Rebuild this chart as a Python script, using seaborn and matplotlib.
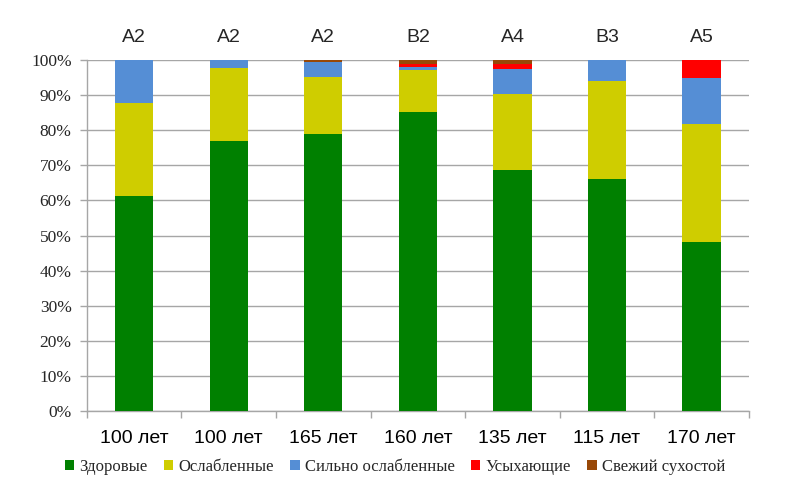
import pandas as pd
import matplotlib.pyplot as plt
import seaborn as sns
from matplotlib.patches import Patch
from matplotlib.ticker import FixedLocator

# Bar data (percent of trees by condition class)
ages = ["100 лет", "100 лет", "165 лет", "160 лет", "135 лет", "115 лет", "170 лет"]
types = ["А2", "А2", "А2", "В2", "А4", "В3", "А5"]
healthy = [61.2, 77.0, 79.0, 85.2, 68.8, 66.1, 48.1]
weakened = [26.6, 20.6, 16.2, 11.9, 21.5, 27.9, 33.7]
strongly_weakened = [12.2, 2.4, 4.1, 0.9, 7.1, 6.0, 13.2]
drying = [0.0, 0.0, 0.0, 1.0, 1.6, 0.0, 5.0]
fresh_dead = [0.0, 0.0, 0.8, 1.0, 1.0, 0.0, 0.0]

series_names = ["Здоровые", "Ослабленные", "Сильно ослабленные", "Усыхающие", "Свежий сухостой"]
colors = ["#008000", "#CFCD00", "#558ED5", "#FF0000", "#984807"]

sns.set_theme(style="white")
plt.rcParams["font.family"] = ["Liberation Serif", "DejaVu Serif"]

df = pd.DataFrame({
    "pos": range(len(ages)),
    "s0": healthy,
    "s1": weakened,
    "s2": strongly_weakened,
    "s3": drying,
    "s4": fresh_dead,
})
# cumulative sums for stacking
cols = ["s0", "s1", "s2", "s3", "s4"]
cum = df[cols].cumsum(axis=1)
cum["pos"] = df["pos"]

fig = plt.figure(figsize=(7.9, 4.98), dpi=100)
ax = fig.add_axes([0.110, 0.1747, 0.838, 0.7048])

# draw from the top layer down so lower layers cover upper ones
for col, c in reversed(list(zip(cols, colors))):
    sns.barplot(data=cum, x="pos", y=col, color=c, saturation=1,
                width=0.405, errorbar=None, ax=ax, zorder=3, linewidth=0)

ax.set_ylim(0, 100)
ax.set_xlim(-0.5, len(ages) - 0.5)
ax.set_yticks(range(0, 101, 10))
ax.set_yticklabels([f"{v}%" for v in range(0, 101, 10)], fontsize=12.5)
ax.set_xticks(range(len(ages)))
ax.set_xticklabels(ages, fontsize=14, family=["Liberation Sans", "DejaVu Sans"])
ax.xaxis.set_minor_locator(FixedLocator([i - 0.5 for i in range(len(ages) + 1)]))
ax.tick_params(axis="x", which="major", length=0, pad=14, colors="black")
ax.tick_params(axis="x", which="minor", length=5, width=1, color="#A6A6A6", bottom=True)
ax.tick_params(axis="y", length=5, width=1, color="#A6A6A6", left=True, pad=6)
ax.set_xlabel("")
ax.set_ylabel("")

ax.yaxis.grid(True, color="#A6A6A6", linewidth=1, zorder=0)
ax.set_axisbelow(True)
for side in ["top", "right"]:
    ax.spines[side].set_visible(False)
for side in ["left", "bottom"]:
    ax.spines[side].set_color("#A6A6A6")
    ax.spines[side].set_linewidth(1)

# forest type labels above bars
for i, t in enumerate(types):
    ax.text(i, 1.0655, t, transform=ax.get_xaxis_transform(), ha="center", va="center",
            fontsize=14, family=["Liberation Sans", "DejaVu Sans"])

handles = [Patch(facecolor=c, edgecolor="none", label=n) for n, c in zip(series_names, colors)]
fig.legend(handles=handles, loc="center", bbox_to_anchor=(0.5, 0.062), ncol=5,
           frameon=False, fontsize=12, handlelength=0.55, handleheight=0.55,
           handletextpad=0.3, columnspacing=1.0)

fig.savefig("out.png", dpi=100)
